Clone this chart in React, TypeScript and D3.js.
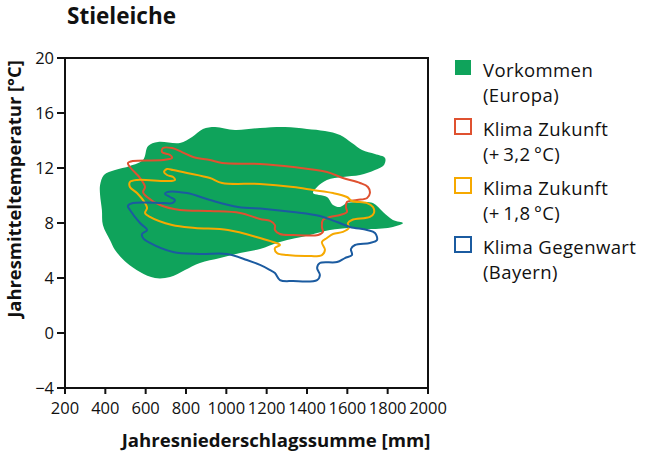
import * as React from "react";
import { scaleLinear, line, curveCatmullRomClosed } from "d3";

type Pt = [number, number];

// Jahresniederschlag [mm], Jahresmitteltemperatur [°C]
const vorkommenEuropa: Pt[] = [
  [374, 10.76], [393, 11.49], [448, 11.85], [522, 12.15], [587, 12.58], [612, 13.6],
  [661, 13.89], [770, 13.82], [830, 14.25], [884, 14.84], [944, 14.98], [1043, 14.76],
  [1167, 14.91], [1291, 14.98], [1400, 14.84], [1489, 14.69], [1564, 14.4], [1623, 13.82],
  [1673, 13.31], [1737, 13.02], [1787, 12.73], [1782, 12.22], [1737, 11.85], [1663, 11.49],
  [1578, 11.35], [1499, 11.13], [1450, 10.62], [1430, 10.18], [1499, 9.89], [1529, 9.31],
  [1564, 9.16], [1598, 9.45], [1663, 9.53], [1727, 9.45], [1777, 8.8], [1826, 8.22],
  [1876, 8.0], [1826, 7.71], [1712, 7.56], [1613, 7.64], [1514, 7.49], [1415, 7.13],
  [1266, 6.62], [1167, 6.11], [1068, 5.82], [969, 5.45], [869, 5.09], [795, 4.58],
  [721, 4.07], [646, 4.0], [572, 4.44], [507, 5.09], [448, 6.04], [423, 6.76],
  [388, 7.85], [383, 8.95], [374, 10.04],
];

const zukunft32: Pt[] = [
  [686, 13.45], [731, 13.45], [780, 13.16], [835, 12.8], [919, 12.58], [979, 12.36],
  [1167, 12.29], [1331, 12.07], [1499, 11.71], [1578, 11.27], [1663, 10.91], [1702, 10.62],
  [1712, 10.18], [1698, 9.82], [1648, 9.67], [1598, 9.53], [1593, 9.16], [1598, 8.8],
  [1564, 8.58], [1514, 8.44], [1479, 8.22], [1474, 7.71], [1479, 7.35], [1455, 7.13],
  [1331, 7.13], [1266, 7.2], [1241, 7.49], [1241, 7.85], [1217, 8.15], [1167, 8.29],
  [1068, 8.73], [919, 8.87], [770, 8.95], [671, 9.31], [607, 9.89], [587, 10.25],
  [597, 10.62], [572, 11.27], [522, 12.07], [512, 12.36], [537, 12.51], [686, 12.58],
  [731, 12.73], [721, 12.95], [681, 13.16],
];

const zukunft18: Pt[] = [
  [706, 11.93], [736, 11.85], [805, 11.64], [919, 11.27], [979, 10.91], [1167, 10.84],
  [1331, 10.62], [1430, 10.4], [1529, 10.18], [1598, 9.89], [1623, 9.6], [1698, 9.45],
  [1727, 9.16], [1732, 8.73], [1712, 8.44], [1623, 8.22], [1603, 8.0], [1608, 7.64],
  [1578, 7.35], [1529, 7.2], [1499, 6.91], [1474, 6.62], [1489, 6.04], [1474, 5.67],
  [1400, 5.6], [1301, 5.67], [1251, 5.82], [1241, 6.18], [1266, 6.4], [1231, 6.62],
  [1167, 6.91], [1008, 7.49], [845, 7.64], [731, 7.85], [621, 8.44], [597, 8.73],
  [607, 9.09], [597, 9.45], [557, 10.18], [522, 10.62], [522, 10.98], [557, 11.13],
  [706, 11.05], [745, 11.13], [736, 11.35], [706, 11.49], [691, 11.71],
];

const gegenwartBayern: Pt[] = [
  [706, 10.25], [805, 10.18], [919, 9.67], [1058, 9.16], [1192, 9.02], [1331, 8.8],
  [1464, 8.51], [1549, 8.07], [1613, 7.71], [1698, 7.49], [1737, 7.27], [1747, 6.76],
  [1712, 6.55], [1638, 6.4], [1618, 6.11], [1623, 5.67], [1588, 5.45], [1549, 5.16],
  [1464, 5.09], [1450, 4.73], [1464, 4.22], [1450, 3.85], [1331, 3.78], [1266, 3.85],
  [1241, 4.36], [1217, 4.58], [1167, 4.95], [1102, 5.31], [1003, 5.75], [869, 5.75],
  [736, 5.89], [621, 6.55], [587, 6.91], [582, 7.2], [607, 7.49], [572, 8.0],
  [522, 8.95], [512, 9.24], [537, 9.45], [686, 9.45], [731, 9.45], [745, 9.67],
  [721, 9.89], [696, 10.11],
];

const xTicks = [200, 400, 600, 800, 1000, 1200, 1400, 1600, 1800, 2000];
const yTicks = [-4, 0, 4, 8, 12, 16, 20];
const yTickLabels = ["\u22124", "0", "4", "8", "12", "16", "20"];

const legendLabels = [
  ["Vorkommen", "(Europa)"],
  ["Klima Zukunft", "(+\u20093,2\u2009\u00b0C)"],
  ["Klima Zukunft", "(+\u20091,8\u2009\u00b0C)"],
  ["Klima Gegenwart", "(Bayern)"],
];

const GREEN = "#0fa35b";
const RED = "#df5130";
const ORANGE = "#f6a900";
const BLUE = "#1b5ba0";
const legendColors = [GREEN, RED, ORANGE, BLUE];

const FONT = "'Open Sans', 'Noto Sans', sans-serif";

const App: React.FC = () => {
  const width = 646, height = 453;
  const x = scaleLinear().domain([200, 2000]).range([65, 428]);
  const y = scaleLinear().domain([-4, 20]).range([388, 58]);

  const path = line<Pt>()
    .x(d => x(d[0]))
    .y(d => y(d[1]))
    .curve(curveCatmullRomClosed.alpha(0.5));

  const outlines: [Pt[], string][] = [
    [zukunft32, RED],
    [zukunft18, ORANGE],
    [gegenwartBayern, BLUE],
  ];

  return (
    <svg width={width} height={height} style={{ position: "absolute", left: 0, top: 0, background: "#fff" }}
         fontFamily={FONT}>
      <text x={67} y={24} fontSize={22.5} fontWeight="bold" fill="#111">Stieleiche</text>

      <path d={path(vorkommenEuropa) || ""} fill={GREEN} />
      {outlines.map(([data, color], i) => (
        <path key={i} d={path(data) || ""} fill="none" stroke={color} strokeWidth={2} strokeLinejoin="round" />
      ))}

      {/* frame */}
      <rect x={65} y={58} width={363} height={330} fill="none" stroke="#111" strokeWidth={2} />

      {xTicks.map(t => (
        <g key={t}>
          <line x1={x(t)} x2={x(t)} y1={388} y2={394} stroke="#111" strokeWidth={2} />
          <text x={x(t)} y={414} fontSize={16.5} textAnchor="middle" fill="#111">{t}</text>
        </g>
      ))}
      {yTicks.map((t, i) => (
        <g key={t}>
          <line x1={57} x2={65} y1={y(t)} y2={y(t)} stroke="#111" strokeWidth={2} />
          <text x={54} y={y(t)} dy="0.35em" fontSize={16.5} textAnchor="end" fill="#111">{yTickLabels[i]}</text>
        </g>
      ))}

      <text x={276} y={447} fontSize={18.6} fontWeight="bold" textAnchor="middle" fill="#111">
        Jahresniederschlagssumme [mm]
      </text>
      <text transform="translate(21,189) rotate(-90)" fontSize={18.4} fontWeight="bold" textAnchor="middle" fill="#111">
        Jahresmitteltemperatur [°C]
      </text>

      {legendLabels.map((lines, i) => {
        const top = 60 + i * 59;
        return (
          <g key={i}>
            <rect x={455} y={top} width={16} height={15}
                  fill={i === 0 ? GREEN : "#fff"} stroke={legendColors[i]} strokeWidth={i === 0 ? 0 : 2} />
            <text x={483} y={top + 17} fontSize={18.5} letterSpacing={0.4} fill="#111">{lines[0]}</text>
            <text x={483} y={top + 42} fontSize={18.5} letterSpacing={0.4} fill="#111">{lines[1]}</text>
          </g>
        );
      })}
    </svg>
  );
};

export default App;
